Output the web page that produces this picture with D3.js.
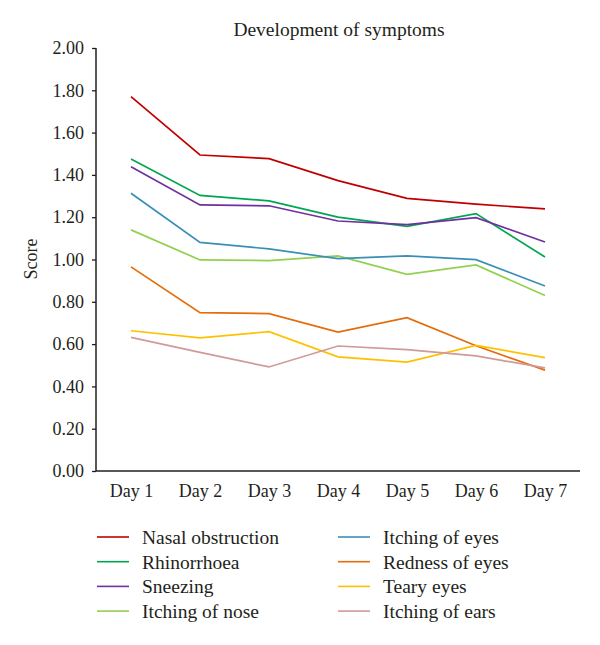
<!DOCTYPE html>
<html><head><meta charset="utf-8">
<script src="https://cdn.jsdelivr.net/npm/d3@7/dist/d3.min.js"></script>
<style>body{margin:0;background:#fff}text{font-family:"Liberation Serif","Times New Roman",serif;fill:#231f20}</style>
</head><body><svg id="c" width="600" height="645"></svg>
<script>
const days = ["Day 1","Day 2","Day 3","Day 4","Day 5","Day 6","Day 7"];
const yTicks = [0,0.2,0.4,0.6,0.8,1.0,1.2,1.4,1.6,1.8,2.0];
const seriesNames = ["Nasal obstruction","Rhinorrhoea","Sneezing","Itching of nose","Itching of eyes","Redness of eyes","Teary eyes","Itching of ears"];
const seriesColors = ["#c00000","#00a651","#7030a0","#92d050","#3a8fb7","#e46c0a","#ffc000","#d09a98"];
const nasalObstruction = [1.77,1.494,1.477,1.373,1.289,1.262,1.239];
const rhinorrhoea      = [1.475,1.303,1.277,1.200,1.157,1.217,1.012];
const sneezing         = [1.439,1.258,1.254,1.182,1.165,1.198,1.083];
const itchingNose      = [1.140,0.998,0.995,1.017,0.930,0.974,0.830];
const itchingEyes      = [1.313,1.081,1.050,1.004,1.017,0.999,0.875];
const rednessEyes      = [0.965,0.749,0.744,0.657,0.725,0.592,0.477];
const tearyEyes        = [0.663,0.629,0.659,0.540,0.515,0.594,0.536];
const itchingEars      = [0.632,0.561,0.492,0.591,0.574,0.544,0.488];
const seriesValues = [nasalObstruction,rhinorrhoea,sneezing,itchingNose,itchingEyes,rednessEyes,tearyEyes,itchingEars];

const FONT = "'Liberation Serif','Times New Roman',serif";
const svg = d3.select("#c");
const x = d3.scalePoint().domain(days).range([131,545]);
const y = d3.scaleLinear().domain([0,2]).range([471,48]);

svg.append("text").attr("x",339).attr("y",36).attr("text-anchor","middle").style("font-size","19.5px").style("font-family",FONT).text("Development of symptoms");

// y axis
const ya = svg.append("g").attr("transform","translate(96,0)")
  .call(d3.axisLeft(y).tickValues(yTicks).tickFormat(d3.format(".2f")).tickSize(4).tickPadding(8));
ya.select(".domain").attr("stroke","#231f20").attr("stroke-width",1.5).attr("d","M0,48V471");
ya.selectAll(".tick line").attr("stroke","#231f20").attr("stroke-width",1.3);
ya.selectAll(".tick text").style("font-size","18px").style("font-family",FONT).style("fill","#231f20");

// x axis
const xa = svg.append("g").attr("transform","translate(0,471)")
  .call(d3.axisBottom(x).tickSize(0).tickPadding(13));
xa.select(".domain").attr("stroke","#231f20").attr("stroke-width",1.5).attr("d","M96,0H580");
xa.selectAll(".tick text").style("font-size","18px").style("font-family",FONT).style("fill","#231f20");

svg.append("text").attr("transform","translate(37,259) rotate(-90)").attr("text-anchor","middle").style("font-size","18px").style("font-family",FONT).text("Score");

const line = d3.line().x((d,i)=>x(days[i])).y(d=>y(d));
seriesValues.forEach((vals,k)=>{
  svg.append("path").attr("d",line(vals)).attr("fill","none").attr("stroke",seriesColors[k]).attr("stroke-width",1.7);
});

// legend
seriesNames.forEach((n,k)=>{
  const col = Math.floor(k/4), row = k%4;
  const lx = col===0?97:338, ly = 537 + row*24.7;
  svg.append("line").attr("x1",lx).attr("x2",lx+32).attr("y1",ly).attr("y2",ly).attr("stroke",seriesColors[k]).attr("stroke-width",1.6);
  svg.append("text").attr("x",lx+45).attr("y",ly).attr("dy","0.35em").style("font-size","19.5px").style("font-family",FONT).text(n);
});
</script></body></html>
